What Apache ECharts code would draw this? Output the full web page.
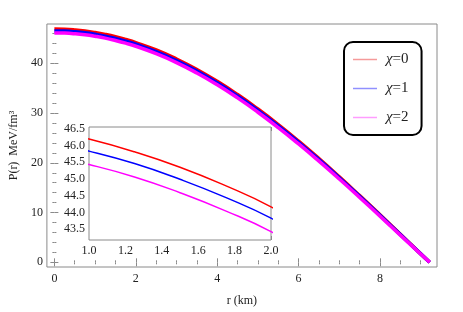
<!DOCTYPE html>
<html><head><meta charset="utf-8">
<script src="https://cdn.jsdelivr.net/npm/echarts@6/dist/echarts.min.js"></script>
<style>html,body{margin:0;padding:0;background:#fff}#c{width:463px;height:312px}</style>
</head><body><div id="c"></div>
<script>
// radius (km)
const r = [0, 0.25, 0.5, 0.75, 1.0, 1.25, 1.5, 1.75, 2.0, 2.5, 3.0, 3.5, 4.0, 4.5, 5.0, 5.5, 6.0, 6.5, 7.0, 7.5, 8.0, 8.5, 9.0, 9.22];
// P(r) MeV/fm^3
const chi0 = [46.87, 46.83, 46.70, 46.49, 46.19, 45.81, 45.35, 44.80, 44.17, 42.68, 40.87, 38.77, 36.38, 33.72, 30.81, 27.68, 24.35, 20.84, 17.18, 13.40, 9.54, 5.62, 1.70, 0.0];
const chi1 = [46.51, 46.47, 46.34, 46.13, 45.83, 45.46, 44.99, 44.45, 43.83, 42.34, 40.54, 38.45, 36.07, 33.43, 30.54, 27.43, 24.12, 20.63, 17.01, 13.26, 9.44, 5.57, 1.70, 0.0];
const chi2 = [46.11, 46.07, 45.94, 45.73, 45.43, 45.06, 44.59, 44.05, 43.43, 41.94, 40.15, 38.05, 35.68, 33.05, 30.17, 27.08, 23.79, 20.33, 16.74, 13.04, 9.27, 5.46, 1.66, 0.0];
const seriesNames = ['χ=0', 'χ=1', 'χ=2'];
const seriesColors = ['#ff0000', '#0000ff', '#ff00ff'];
const legendColors = ['#f59a9a', '#9090ff', '#ff9cff'];

const mainXTicks = [0, 2, 4, 6, 8];
const mainXMinor = [0.5, 1, 1.5, 2.5, 3, 3.5, 4.5, 5, 5.5, 6.5, 7, 7.5, 8.5, 9];
const mainYTicks = [0, 10, 20, 30, 40];
const mainYMinor = [2, 4, 6, 8, 12, 14, 16, 18, 22, 24, 26, 28, 32, 34, 36, 38, 42, 44, 46];
const insetXTicks = [1.0, 1.2, 1.4, 1.6, 1.8, 2.0];
const insetXMinor = [1.05, 1.1, 1.15, 1.25, 1.3, 1.35, 1.45, 1.5, 1.55, 1.65, 1.7, 1.75, 1.85, 1.9, 1.95];
const insetYTicks = [43.5, 44.0, 44.5, 45.0, 45.5, 46.0, 46.5];
const insetYMinor = [43.2, 43.3, 43.4, 43.6, 43.7, 43.8, 43.9, 44.1, 44.2, 44.3, 44.4, 44.6, 44.7, 44.8, 44.9, 45.1, 45.2, 45.3, 45.4, 45.6, 45.7, 45.8, 45.9, 46.1, 46.2, 46.3, 46.4];

const SERIF = 'Liberation Serif';
const TICKC = '#8a8a8a';

function axisSet(dim, gridIndex, min, max, majors, minors, fmt, margin, extra) {
  const pos = dim === 'x' ? ['bottom', 'top'] : ['left', 'right'];
  const out = [];
  pos.forEach((p, pi) => {
    const base = {type: 'value', gridIndex: gridIndex, min: min, max: max, position: p,
      splitLine: {show: false}, axisLine: {show: false}, axisPointer: {show: false}};
    out.push(Object.assign({}, base, pi === 0 ? (extra || {}) : {}, {
      axisLabel: pi === 0 ? {show: true, customValues: majors, formatter: fmt, margin: margin,
        fontSize: 12, fontFamily: SERIF, color: '#222'} : {show: false},
      axisTick: {show: true, inside: true, customValues: majors, length: 4, lineStyle: {color: TICKC}}
    }));
    out.push(Object.assign({}, base, {
      axisLabel: {show: false},
      axisTick: {show: true, inside: true, customValues: minors, length: 2, lineStyle: {color: TICKC}}
    }));
  });
  return out;
}

const intFmt = v => String(Math.round(v));
const decFmt = v => v.toFixed(1);

const xAxes = [].concat(
  axisSet('x', 0, -0.184, 9.40, mainXTicks, mainXMinor, intFmt, 6,
    {name: 'r (km)', nameLocation: 'middle', nameGap: 28, nameTextStyle: {fontFamily: SERIF, fontSize: 12, color: '#222'}}),
  axisSet('x', 1, 1.0, 2.0, insetXTicks, insetXMinor, decFmt, 5)
);
const yAxes = [].concat(
  axisSet('y', 0, -0.94, 47.9, mainYTicks, mainYMinor, intFmt, 4,
    {name: 'P(r)  MeV/fm³', nameLocation: 'middle', nameGap: 26, nameRotate: 90, nameTextStyle: {fontFamily: SERIF, fontSize: 12, color: '#222'}}),
  axisSet('y', 1, 43.18, 46.55, insetYTicks, insetYMinor, decFmt, 4)
);

const dataSets = [chi0, chi1, chi2];
const series = [];
dataSets.forEach((d, i) => {
  series.push({name: seriesNames[i], type: 'line', xAxisIndex: 0, yAxisIndex: 0, smooth: true,
    symbol: 'none', data: r.map((x, k) => [x, d[k]]), lineStyle: {color: seriesColors[i], width: 3.5},
    itemStyle: {color: seriesColors[i]}, z: 3});
});
dataSets.forEach((d, i) => {
  series.push({name: seriesNames[i], type: 'line', xAxisIndex: 4, yAxisIndex: 4, smooth: true,
    symbol: 'none', clip: true, data: r.map((x, k) => [x, d[k]]), lineStyle: {color: seriesColors[i], width: 1.5},
    itemStyle: {color: seriesColors[i]}, z: 5});
});

const chart = echarts.init(document.getElementById('c'), null, {renderer: 'canvas'});
chart.setOption({
  animation: false,
  backgroundColor: '#fff',
  grid: [
    {left: 43, top: 24, right: 26, bottom: 44, show: true, borderColor: TICKC, borderWidth: 1, backgroundColor: 'transparent'},
    {left: 89, top: 127, right: 192, bottom: 72, show: true, borderColor: TICKC, borderWidth: 1, backgroundColor: '#fff', z: 4}
  ],
  xAxis: xAxes,
  yAxis: yAxes,
  legend: {
    orient: 'vertical', left: 344, top: 42, padding: [10, 13, 10, 9], itemGap: 14,
    itemWidth: 24, itemHeight: 1.5, icon: 'rect',
    borderColor: '#000', borderWidth: 2, borderRadius: 9, backgroundColor: '#fff',
    data: seriesNames.map((n, i) => ({name: n, icon: 'rect', itemStyle: {color: legendColors[i], borderWidth: 0}})),
    formatter: n => '{i|χ}{t|' + n.slice(1) + '}',
    textStyle: {fontFamily: SERIF, fontSize: 15, color: '#222', padding: [0, 0, 0, 4],
      rich: {i: {fontFamily: SERIF, fontStyle: 'italic', fontSize: 15}, t: {fontFamily: SERIF, fontSize: 15}}}
  },
  series: series
});
</script>
</body></html>
